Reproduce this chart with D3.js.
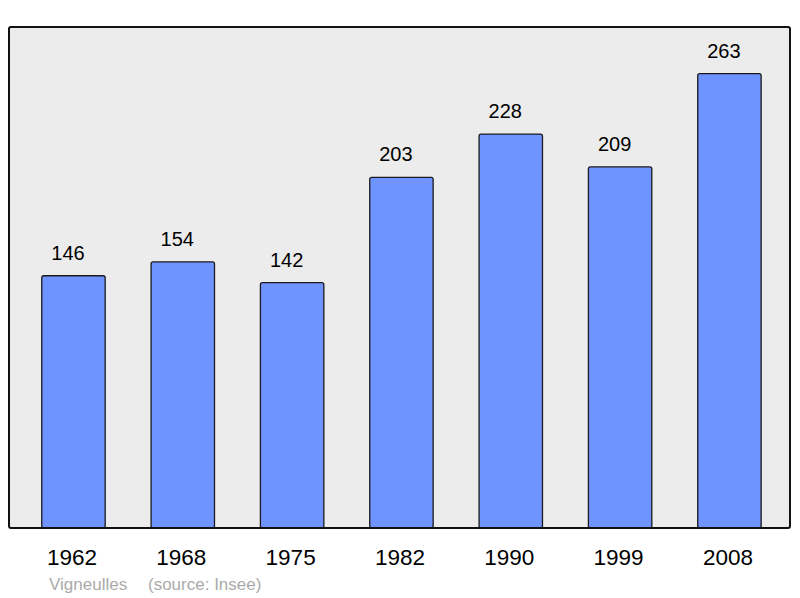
<!DOCTYPE html>
<html>
<head>
<meta charset="utf-8">
<script src="https://cdn.jsdelivr.net/npm/d3@7"></script>
<style>
body{margin:0;background:#fff;}
svg{display:block;font-family:"Liberation Sans",Arial,sans-serif;}
</style>
</head>
<body>
<svg id="chart" width="800" height="598"></svg>
<script>
var years = ["1962","1968","1975","1982","1990","1999","2008"];
var population = [146,154,142,203,228,209,263];
var townName = "Vigneulles";
var sourceText = "(source: Insee)";

var svg = d3.select("#chart");
var frame = {left:9, top:27, right:790, bottom:528};

// plot background
svg.append("rect")
	.attr("x",frame.left)
	.attr("y",frame.top)
	.attr("width",frame.right-frame.left)
	.attr("height",frame.bottom-frame.top)
	.attr("rx",2)
	.attr("fill","#ececec");

var x = d3.scaleBand()
	.domain(years)
	.range([18.8,784.1])
	.paddingInner(0.42)
	.paddingOuter(0.21);

var y = d3.scaleLinear()
	.domain([0,290])
	.range([frame.bottom,frame.top]);

svg.append("g").selectAll("rect")
	.data(population)
	.enter()
	.append("rect")
	.attr("x",function(d,i){ return x(years[i]); })
	.attr("y",function(d){ return y(d); })
	.attr("width",x.bandwidth())
	.attr("height",function(d){ return y(0)-y(d); })
	.attr("rx",2)
	.attr("fill","#7094ff")
	.attr("stroke","#1a1a1a")
	.attr("stroke-width",1.3);

// value labels sit a little left of the bar centre
svg.append("g").selectAll("text")
	.data(population)
	.enter()
	.append("text")
	.attr("x",function(d,i){ return x(years[i])+x.bandwidth()/2-5.5; })
	.attr("y",function(d){ return y(d)-16; })
	.attr("text-anchor","middle")
	.attr("font-size",20)
	.attr("fill","#000")
	.text(function(d){ return d; });

// frame border on top of bars
svg.append("rect")
	.attr("x",frame.left)
	.attr("y",frame.top)
	.attr("width",frame.right-frame.left)
	.attr("height",frame.bottom-frame.top)
	.attr("rx",2)
	.attr("fill","none")
	.attr("stroke","#111")
	.attr("stroke-width",2);

// year axis
var xAxis = svg.append("g")
	.attr("transform","translate(-1.5,"+frame.bottom+")")
	.call(d3.axisBottom(x).tickSize(0).tickPadding(21));
xAxis.select(".domain").remove();
xAxis.selectAll("text")
	.attr("font-size",22.5)
	.attr("font-family","Liberation Sans, Arial, sans-serif")
	.attr("fill","#000");

svg.append("text")
	.attr("x",49)
	.attr("y",590)
	.attr("font-size",17)
	.attr("fill","#aaaaaa")
	.text(townName);
svg.append("text")
	.attr("x",148)
	.attr("y",590)
	.attr("font-size",17)
	.attr("fill","#aaaaaa")
	.text(sourceText);
</script>
</body>
</html>
